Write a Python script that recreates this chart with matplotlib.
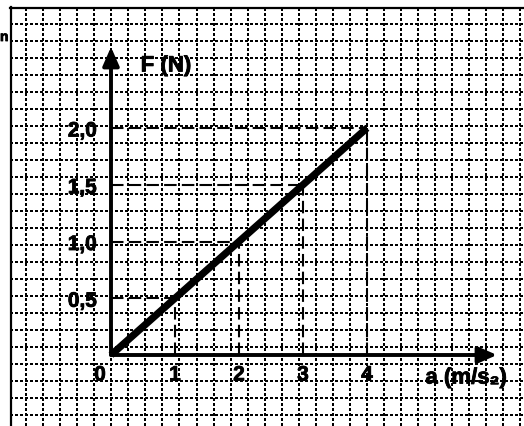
import matplotlib.pyplot as plt
import matplotlib.patheffects as pe

# force vs acceleration, F = m*a with m = 0.5 kg
a_ticks = [0, 1, 2, 3, 4]
a_tick_labels = ['0', '1', '2', '3', '4']
F_ticks = [0.5, 1.0, 1.5, 2.0]
F_tick_labels = ['0,5', '1,0', '1,5', '2,0']
a_line = [0, 4]
F_line = [0, 2.0]
a_proj = [1, 2, 3, 4]
F_proj = [0.5, 1.0, 1.5, 2.0]

W, H = 524, 426
fig = plt.figure(figsize=(W / 100, H / 100), dpi=100)
fig.patch.set_facecolor('white')

# background: squared paper in pixel units
bg = fig.add_axes([0, 0, 1, 1])
bg.set_xlim(0, W)
bg.set_ylim(H, 0)
bg.axis('off')

dot = dict(color='black', lw=1.5, linestyle=(0, (1, 1.4)), dash_capstyle='butt',
           antialiased=False)
for k in range(30):
    x = 26 + 17.05 * k
    bg.plot([x, x], [8, H], **dot)
for k in range(24):
    y = 24 + 17 * k
    bg.plot([10, W], [y, y], **dot)
bg.plot([10.5, 10.5], [7, H], color='black', lw=1.6)
bg.plot([10, W], [7.5, 7.5], color='black', lw=1.6)

heavy = [pe.withStroke(linewidth=0.6, foreground='black')]
bg.text(0, 37, 'n', ha='left', va='center', fontsize=10, fontweight='bold',
        family='Liberation Sans', path_effects=heavy)

# plot area: origin at the arrow corner
x0, x1 = 111, 497
y0, y1 = 355, 47
ax = fig.add_axes([x0 / W, 1 - y0 / H, (x1 - x0) / W, (y0 - y1) / H])
ax.set_xlim(0, (x1 - x0) / 64.0)
ax.set_ylim(0, (y0 - y1) / 113.5)
ax.axis('off')
ax.patch.set_alpha(0)

arrow = dict(arrowstyle='-|>,head_length=0.75,head_width=0.33', color='black',
             lw=2.8, mutation_scale=15, shrinkA=0, shrinkB=0)
ax.annotate('', xy=(0, 1), xytext=(0, 0), xycoords='axes fraction', arrowprops=arrow)
ax.annotate('', xy=(1, 0), xytext=(0, 0), xycoords='axes fraction', arrowprops=arrow)

for a, F in zip(a_proj, F_proj):
    ax.plot([a, a], [0, F], color='black', lw=1.5, dashes=(6, 2.5), clip_on=False)
    ax.plot([0, a], [F, F], color='black', lw=1.5, dashes=(6, 2.5), clip_on=False)

ax.plot(a_line, F_line, color='black', lw=5.2, solid_capstyle='butt', clip_on=False)

tick_font = dict(fontsize=15, fontweight='bold', family='Liberation Sans',
                 path_effects=heavy)
for a, lab in zip(a_ticks, a_tick_labels):
    dx = -11 if a == 0 else 0
    ax.annotate(lab, xy=(a, 0), xytext=(dx, -20), textcoords='offset pixels',
                ha='center', va='center', **tick_font)
for F, lab in zip(F_ticks, F_tick_labels):
    ax.annotate(lab, xy=(0, F), xytext=(-14, -3), textcoords='offset pixels',
                ha='right', va='center', **tick_font)

label_font = dict(fontsize=16, fontweight='bold', family=['Liberation Sans', 'DejaVu Sans'],
                  path_effects=heavy)
bg.text(166, 66, 'F (N)', ha='center', va='center', **label_font)
bg.text(466, 378, 'a (m/s\u2082)', ha='center', va='center', **label_font)

fig.savefig('out.png', dpi=100)
